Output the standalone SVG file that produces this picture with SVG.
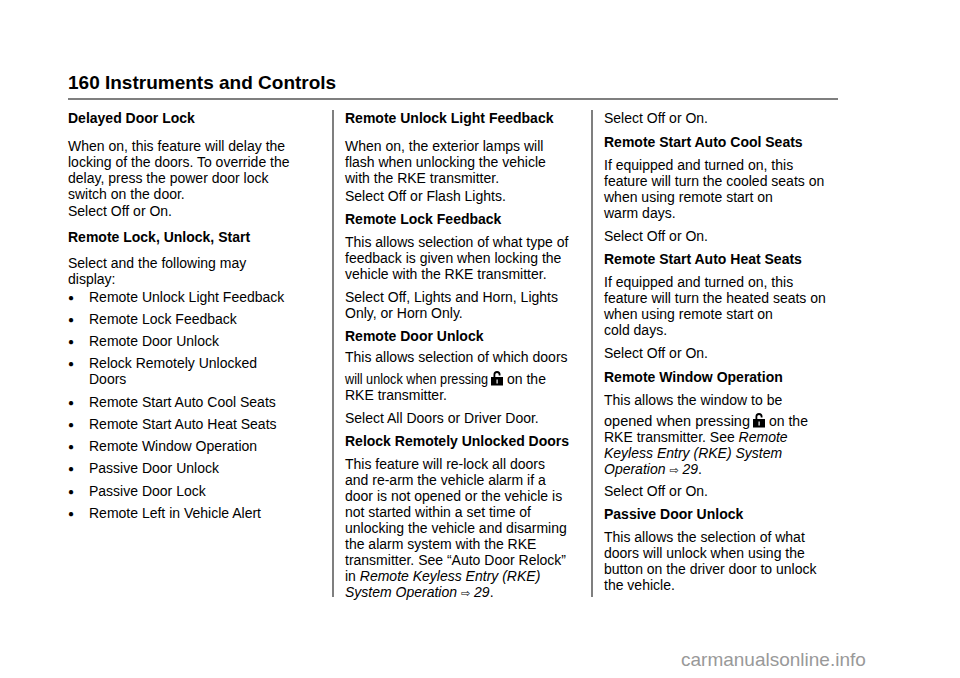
<svg xmlns="http://www.w3.org/2000/svg" width="960" height="678" viewBox="0 0 960 678">
<style>
text{font-family:"Liberation Sans",Arial,sans-serif;font-size:14px;fill:#000}
.b{font-weight:bold}
.i{font-style:italic}
.h{font-size:19px;font-weight:bold}
.wm{font-size:19px;fill:#999}
.ar{font-family:"DejaVu Sans",sans-serif;font-size:11px}
.bu{font-size:10px}
</style>
<defs>
<g id="lock"><path d="M2.5 6 V3.5 A3.5 3.5 0 0 1 9.5 3.5 V4.5 H7.7 V3.6 A1.7 1.7 0 0 0 4.3 3.6 V6 Z" fill="#000"/><rect x="0" y="6" width="12" height="8.5" fill="#000"/><rect x="5.5" y="8.5" width="1.2" height="4" fill="#fff"/></g>
</defs>
<rect width="960" height="678" fill="#fff"/>
<text class="h" x="68" y="89">160    Instruments and Controls</text>
<line x1="68" y1="99" x2="838" y2="99" stroke="#000" stroke-width="1.2"/>
<line x1="333" y1="110" x2="333" y2="597" stroke="#555" stroke-width="1.5"/>
<line x1="592" y1="110" x2="592" y2="597" stroke="#555" stroke-width="1.5"/>
<g id="col1">
<text class="b" x="68" y="123">Delayed Door Lock</text>
<text x="68" y="151">When on, this feature will delay the</text>
<text x="68" y="167">locking of the doors. To override the</text>
<text x="68" y="183">delay, press the power door lock</text>
<text x="68" y="199">switch on the door.</text>
<text x="68" y="216">Select Off or On.</text>
<text class="b" x="68" y="242">Remote Lock, Unlock, Start</text>
<text x="68" y="268">Select and the following may</text>
<text x="68" y="284">display:</text>
<text class="bu" x="68" y="301">●</text><text x="89" y="302">Remote Unlock Light Feedback</text>
<text class="bu" x="68" y="323">●</text><text x="89" y="324">Remote Lock Feedback</text>
<text class="bu" x="68" y="345">●</text><text x="89" y="346">Remote Door Unlock</text>
<text class="bu" x="68" y="367">●</text><text x="89" y="368">Relock Remotely Unlocked</text>
<text x="89" y="384">Doors</text>
<text class="bu" x="68" y="406">●</text><text x="89" y="407">Remote Start Auto Cool Seats</text>
<text class="bu" x="68" y="428">●</text><text x="89" y="429">Remote Start Auto Heat Seats</text>
<text class="bu" x="68" y="450">●</text><text x="89" y="451">Remote Window Operation</text>
<text class="bu" x="68" y="472">●</text><text x="89" y="473">Passive Door Unlock</text>
<text class="bu" x="68" y="495">●</text><text x="89" y="496">Passive Door Lock</text>
<text class="bu" x="68" y="517">●</text><text x="89" y="518">Remote Left in Vehicle Alert</text>
</g>
<g id="col2">
<text class="b" x="345" y="123">Remote Unlock Light Feedback</text>
<text x="345" y="151">When on, the exterior lamps will</text>
<text x="345" y="167">flash when unlocking the vehicle</text>
<text x="345" y="183">with the RKE transmitter.</text>
<text x="345" y="201">Select Off or Flash Lights.</text>
<text class="b" x="345" y="224">Remote Lock Feedback</text>
<text x="345" y="247">This allows selection of what type of</text>
<text x="345" y="263">feedback is given when locking the</text>
<text x="345" y="279">vehicle with the RKE transmitter.</text>
<text x="345" y="302">Select Off, Lights and Horn, Lights</text>
<text x="345" y="318">Only, or Horn Only.</text>
<text class="b" x="345" y="341">Remote Door Unlock</text>
<text x="345" y="362">This allows selection of which doors</text>
<text x="345" y="384" textLength="143" lengthAdjust="spacingAndGlyphs">will unlock when pressing</text>
<use href="#lock" x="491" y="371"/>
<text x="507" y="384">on the</text>
<text x="345" y="400">RKE transmitter.</text>
<text x="345" y="423">Select All Doors or Driver Door.</text>
<text class="b" x="345" y="446">Relock Remotely Unlocked Doors</text>
<text x="345" y="469">This feature will re-lock all doors</text>
<text x="345" y="485">and re-arm the vehicle alarm if a</text>
<text x="345" y="501">door is not opened or the vehicle is</text>
<text x="345" y="517">not started within a set time of</text>
<text x="345" y="533">unlocking the vehicle and disarming</text>
<text x="345" y="549">the alarm system with the RKE</text>
<text x="345" y="565">transmitter. See “Auto Door Relock”</text>
<text x="345" y="581">in <tspan class="i">Remote Keyless Entry (RKE)</tspan></text>
<text x="345" y="597"><tspan class="i">System Operation</tspan> <tspan class="ar">⇨</tspan> <tspan class="i">29</tspan>.</text>
</g>
<g id="col3">
<text x="604" y="123">Select Off or On.</text>
<text class="b" x="604" y="147">Remote Start Auto Cool Seats</text>
<text x="604" y="170">If equipped and turned on, this</text>
<text x="604" y="186">feature will turn the cooled seats on</text>
<text x="604" y="202">when using remote start on</text>
<text x="604" y="218">warm days.</text>
<text x="604" y="241">Select Off or On.</text>
<text class="b" x="604" y="264">Remote Start Auto Heat Seats</text>
<text x="604" y="287">If equipped and turned on, this</text>
<text x="604" y="303">feature will turn the heated seats on</text>
<text x="604" y="319">when using remote start on</text>
<text x="604" y="335">cold days.</text>
<text x="604" y="358">Select Off or On.</text>
<text class="b" x="604" y="382">Remote Window Operation</text>
<text x="604" y="405">This allows the window to be</text>
<text x="604" y="426" textLength="146" lengthAdjust="spacingAndGlyphs">opened when pressing</text>
<use href="#lock" x="753" y="413"/>
<text x="769" y="426">on the</text>
<text x="604" y="442">RKE transmitter. See <tspan class="i">Remote</tspan></text>
<text x="604" y="458" class="i">Keyless Entry (RKE) System</text>
<text x="604" y="474"><tspan class="i">Operation</tspan> <tspan class="ar">⇨</tspan> <tspan class="i">29</tspan>.</text>
<text x="604" y="496">Select Off or On.</text>
<text class="b" x="604" y="519">Passive Door Unlock</text>
<text x="604" y="542">This allows the selection of what</text>
<text x="604" y="558">doors will unlock when using the</text>
<text x="604" y="574">button on the driver door to unlock</text>
<text x="604" y="590">the vehicle.</text>
</g>
<text class="wm" x="681" y="666">carmanualsonline.info</text>
</svg>
